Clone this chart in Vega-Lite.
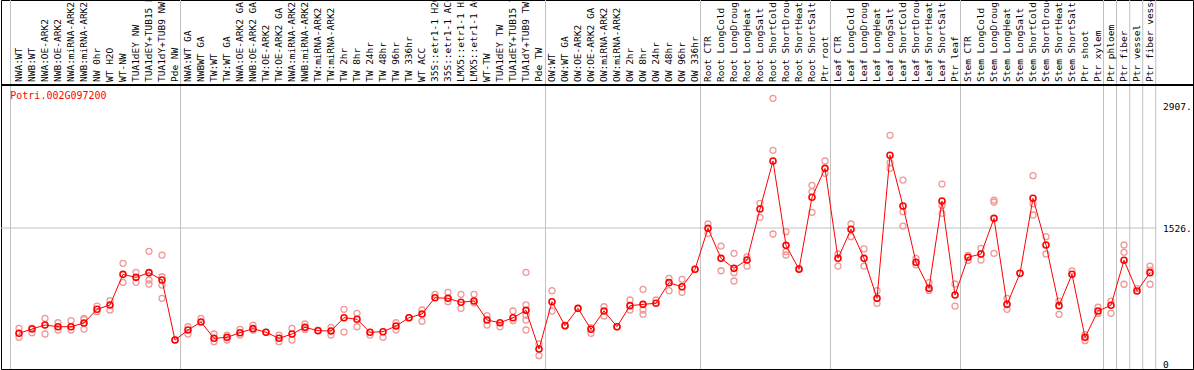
{
  "$schema": "https://vega.github.io/schema/vega-lite/v6.json",
  "width": 1192,
  "height": 369,
  "autosize": {"type": "none"},
  "padding": {"left": 1, "top": 0, "right": 1, "bottom": 1},
  "background": "white",
  "config": {"view": {"stroke": "#000000", "strokeWidth": 1}},
  "datasets": {
    "samples": [
      {"i":1,"label":"NWA:WT","mean":336},
      {"i":2,"label":"NWB:WT","mean":384},
      {"i":3,"label":"NWA:OE-ARK2","mean":430},
      {"i":4,"label":"NWB:OE-ARK2","mean":410},
      {"i":5,"label":"NWA:miRNA-ARK2","mean":410},
      {"i":6,"label":"NWB:miRNA-ARK2","mean":452},
      {"i":7,"label":"NW 0hr","mean":607},
      {"i":8,"label":"WT H2O","mean":656},
      {"i":9,"label":"WT-NW","mean":1002},
      {"i":10,"label":"TUA1dEY NW","mean":968},
      {"i":11,"label":"TUA1dEY+TUB15 NW","mean":1021},
      {"i":12,"label":"TUA1dY+TUB9 NW","mean":938},
      {"i":13,"label":"Pde NW","mean":260},
      {"i":14,"label":"NWA:WT GA","mean":373},
      {"i":15,"label":"NWBWT GA","mean":463},
      {"i":16,"label":"TW:WT","mean":279},
      {"i":17,"label":"TW:WT GA","mean":290},
      {"i":18,"label":"NWA:OE-ARK2 GA","mean":342},
      {"i":19,"label":"NWB:OE-ARK2 GA","mean":388},
      {"i":20,"label":"TW:OE-ARK2","mean":347},
      {"i":21,"label":"TW:OE-ARK2 GA","mean":279},
      {"i":22,"label":"NWA:miRNA-ARK2","mean":328},
      {"i":23,"label":"NWB:miRNA-ARK2","mean":403},
      {"i":24,"label":"TW:miRNA-ARK2","mean":365},
      {"i":25,"label":"TW:miRNA-ARK2","mean":362},
      {"i":26,"label":"TW 2hr","mean":512},
      {"i":27,"label":"TW 8hr","mean":494},
      {"i":28,"label":"TW 24hr","mean":347},
      {"i":29,"label":"TW 48hr","mean":354},
      {"i":30,"label":"TW 96hr","mean":418},
      {"i":31,"label":"TW 336hr","mean":512},
      {"i":32,"label":"WT ACC","mean":554},
      {"i":33,"label":"35S::etr1-1 H2O","mean":738},
      {"i":34,"label":"35S::etr1-1 ACC","mean":731},
      {"i":35,"label":"LMX5::etr1-1 H2O","mean":686},
      {"i":36,"label":"LMX5::etr1-1 ACC","mean":701},
      {"i":37,"label":"WT-TW","mean":486},
      {"i":38,"label":"TUA1dEY TW","mean":455},
      {"i":39,"label":"TUA1dEY+TUB15 TW","mean":512},
      {"i":40,"label":"TUA1dY+TUB9 TW","mean":595},
      {"i":41,"label":"Pde TW","mean":158},
      {"i":42,"label":"OW:WT","mean":693},
      {"i":43,"label":"OW:WT GA","mean":422},
      {"i":44,"label":"OW:OE-ARK2","mean":618},
      {"i":45,"label":"OW:OE-ARK2 GA","mean":381},
      {"i":46,"label":"OW:miRNA-ARK2","mean":588},
      {"i":47,"label":"OW:miRNA-ARK2","mean":410},
      {"i":48,"label":"OW 2hr","mean":648},
      {"i":49,"label":"OW 8hr","mean":663},
      {"i":50,"label":"OW 24hr","mean":675},
      {"i":51,"label":"OW 48hr","mean":908},
      {"i":52,"label":"OW 96hr","mean":862},
      {"i":53,"label":"OW 336hr","mean":1059},
      {"i":54,"label":"Root CTR","mean":1522},
      {"i":55,"label":"Root LongCold","mean":1183},
      {"i":56,"label":"Root LongDrought","mean":1070},
      {"i":57,"label":"Root LongHeat","mean":1164},
      {"i":58,"label":"Root LongSalt","mean":1741},
      {"i":59,"label":"Root ShortCold","mean":2283},
      {"i":60,"label":"Root ShortDrought","mean":1330},
      {"i":61,"label":"Root ShortHeat","mean":1059},
      {"i":62,"label":"Root ShortSalt","mean":1873},
      {"i":63,"label":"Ptr root","mean":2200},
      {"i":64,"label":"Leaf CTR","mean":1183},
      {"i":65,"label":"Leaf LongCold","mean":1511},
      {"i":66,"label":"Leaf LongDrought","mean":1183},
      {"i":67,"label":"Leaf LongHeat","mean":731},
      {"i":68,"label":"Leaf LongSalt","mean":2348},
      {"i":69,"label":"Leaf ShortCold","mean":1775},
      {"i":70,"label":"Leaf ShortDrought","mean":1138},
      {"i":71,"label":"Leaf ShortHeat","mean":844},
      {"i":72,"label":"Leaf ShortSalt","mean":1831},
      {"i":73,"label":"Ptr leaf","mean":769},
      {"i":74,"label":"Stem CTR","mean":1195},
      {"i":75,"label":"Stem LongCold","mean":1232},
      {"i":76,"label":"Stem LongDrought","mean":1635},
      {"i":77,"label":"Stem LongHeat","mean":663},
      {"i":78,"label":"Stem LongSalt","mean":1014},
      {"i":79,"label":"Stem ShortCold","mean":1862},
      {"i":80,"label":"Stem ShortDrought","mean":1334},
      {"i":81,"label":"Stem ShortHeat","mean":648},
      {"i":82,"label":"Stem ShortSalt","mean":1003},
      {"i":83,"label":"Ptr shoot","mean":290},
      {"i":84,"label":"Ptr xylem","mean":588},
      {"i":85,"label":"Ptr phloem","mean":652},
      {"i":86,"label":"Ptr fiber","mean":1161},
      {"i":87,"label":"Ptr vessel","mean":814},
      {"i":88,"label":"Ptr fiber vessel","mean":1021}
    ],
    "reps": [
      {"i":1,"v":392},{"i":1,"v":290},
      {"i":2,"v":342},{"i":2,"v":395},
      {"i":3,"v":505},{"i":3,"v":328},
      {"i":4,"v":455},{"i":4,"v":373},
      {"i":5,"v":478},{"i":5,"v":373},
      {"i":6,"v":505},{"i":6,"v":490},{"i":6,"v":384},
      {"i":7,"v":644},{"i":7,"v":580},
      {"i":8,"v":704},{"i":8,"v":599},
      {"i":9,"v":1127},{"i":9,"v":912},
      {"i":10,"v":1025},{"i":10,"v":912},
      {"i":11,"v":1262},{"i":11,"v":938},{"i":11,"v":893},
      {"i":12,"v":1220},{"i":12,"v":975},{"i":12,"v":881},{"i":12,"v":731},
      {"i":13,"v":260},
      {"i":14,"v":410},{"i":14,"v":328},
      {"i":15,"v":505},
      {"i":16,"v":328},{"i":16,"v":241},
      {"i":17,"v":260},{"i":17,"v":316},
      {"i":18,"v":381},{"i":18,"v":316},
      {"i":19,"v":429},{"i":19,"v":373},
      {"i":20,"v":347},
      {"i":21,"v":241},{"i":21,"v":316},
      {"i":22,"v":392},{"i":22,"v":260},
      {"i":23,"v":441},{"i":23,"v":380},
      {"i":24,"v":370},
      {"i":25,"v":403},{"i":25,"v":316},
      {"i":26,"v":607},{"i":26,"v":350},
      {"i":27,"v":562},{"i":27,"v":410},
      {"i":28,"v":316},
      {"i":29,"v":290},
      {"i":30,"v":455},{"i":30,"v":373},
      {"i":31,"v":512},
      {"i":32,"v":599},{"i":32,"v":471},
      {"i":33,"v":776},
      {"i":34,"v":799},{"i":34,"v":693},
      {"i":35,"v":776},{"i":35,"v":618},
      {"i":36,"v":776},{"i":36,"v":680},
      {"i":37,"v":535},{"i":37,"v":429},
      {"i":38,"v":410},
      {"i":39,"v":588},{"i":39,"v":480},
      {"i":40,"v":1025},{"i":40,"v":656},{"i":40,"v":540},{"i":40,"v":486},{"i":40,"v":373},
      {"i":41,"v":215},{"i":41,"v":83},
      {"i":42,"v":817},{"i":42,"v":588},
      {"i":43,"v":422},
      {"i":44,"v":618},
      {"i":45,"v":336},{"i":45,"v":400},
      {"i":46,"v":636},{"i":46,"v":531},
      {"i":47,"v":410},
      {"i":48,"v":712},{"i":48,"v":599},
      {"i":49,"v":833},{"i":49,"v":599},{"i":49,"v":550},
      {"i":50,"v":712},
      {"i":51,"v":957},{"i":51,"v":817},
      {"i":52,"v":946},{"i":52,"v":799},
      {"i":53,"v":1059},
      {"i":54,"v":1571},{"i":54,"v":1466},
      {"i":55,"v":1322},{"i":55,"v":1043},
      {"i":56,"v":1240},{"i":56,"v":1021},{"i":56,"v":927},
      {"i":57,"v":1200},{"i":57,"v":1096},
      {"i":58,"v":1805},{"i":58,"v":1647},
      {"i":59,"v":2992},{"i":59,"v":2404},{"i":59,"v":1458},
      {"i":60,"v":1484},{"i":60,"v":1258},{"i":60,"v":1221},
      {"i":61,"v":1070},
      {"i":62,"v":2008},{"i":62,"v":1936},{"i":62,"v":1703},
      {"i":63,"v":2283},{"i":63,"v":2144},
      {"i":64,"v":1232},{"i":64,"v":1096},
      {"i":65,"v":1571},{"i":65,"v":1428},
      {"i":66,"v":1289},{"i":66,"v":1096},
      {"i":67,"v":817},{"i":67,"v":675},
      {"i":68,"v":2574},{"i":68,"v":2264},{"i":68,"v":2200},
      {"i":69,"v":2068},{"i":69,"v":1710},{"i":69,"v":1548},
      {"i":70,"v":1183},{"i":70,"v":1110},
      {"i":71,"v":908},{"i":71,"v":820},
      {"i":72,"v":2023},{"i":72,"v":1780},{"i":72,"v":1692},
      {"i":73,"v":893},{"i":73,"v":644},
      {"i":74,"v":1215},{"i":74,"v":1160},
      {"i":75,"v":1296},{"i":75,"v":1164},
      {"i":76,"v":1842},{"i":76,"v":1820},{"i":76,"v":1240},
      {"i":77,"v":731},{"i":77,"v":607},
      {"i":78,"v":1014},
      {"i":79,"v":2117},{"i":79,"v":1800},{"i":79,"v":1673},
      {"i":80,"v":1428},{"i":80,"v":1232},
      {"i":81,"v":700},{"i":81,"v":550},
      {"i":82,"v":1040},
      {"i":83,"v":320},{"i":83,"v":252},
      {"i":84,"v":630},{"i":84,"v":560},
      {"i":85,"v":700},{"i":85,"v":562},
      {"i":86,"v":1334},{"i":86,"v":1251},{"i":86,"v":890},
      {"i":87,"v":840},
      {"i":88,"v":1096},{"i":88,"v":1050},{"i":88,"v":890}
    ],
    "seps": [
      {"s":0.346},{"s":13.423},{"s":41.5},{"s":53.423},{"s":63.423},{"s":73.423},
      {"s":84.423},{"s":85.423},{"s":86.44},{"s":87.44},{"s":88.44}
    ],
    "grid": [{"g":1526,"x1":-0.38,"x2":88.44}],
    "ticks": [{"v":2907,"t":"2907."},{"v":1526,"t":"1526."},{"v":0,"t":"0"}],
    "gene": [{"name":"Potri.002G097200"}]
  },
  "layer": [
    {
      "data": {"name": "seps"},
      "mark": {"type": "rule", "color": "#c0c0c0", "strokeWidth": 1},
      "encoding": {
        "x": {"field": "s", "type": "quantitative", "axis": null,
              "scale": {"domain": [-0.38462, 91.3077], "nice": false, "zero": false}}
      }
    },
    {
      "data": {"name": "grid"},
      "mark": {"type": "rule", "color": "#c0c0c0", "strokeWidth": 1},
      "encoding": {
        "x": {"field": "x1", "type": "quantitative", "axis": null},
        "x2": {"field": "x2"},
        "y": {"field": "g", "type": "quantitative", "axis": null,
              "scale": {"domain": [-67.82, 4103.1], "nice": false, "zero": false}}
      }
    },
    {
      "data": {"name": "samples"},
      "mark": {"type": "rule", "color": "#000000", "strokeWidth": 1},
      "encoding": {
        "y": {"datum": 3137, "type": "quantitative", "axis": null}
      }
    },
    {
      "data": {"name": "samples"},
      "mark": {"type": "text", "angle": 270, "align": "left", "baseline": "middle",
               "font": "DejaVu Sans Mono", "fontSize": 9.5, "color": "#000000"},
      "encoding": {
        "x": {"field": "i", "type": "quantitative", "axis": null},
        "y": {"datum": 3176, "type": "quantitative", "axis": null},
        "text": {"field": "label"}
      }
    },
    {
      "data": {"name": "ticks"},
      "mark": {"type": "text", "align": "left", "baseline": "middle", "dy": 1.5,
               "font": "DejaVu Sans Mono", "fontSize": 9.5, "color": "#000000"},
      "encoding": {
        "x": {"datum": 89.0, "type": "quantitative", "axis": null},
        "y": {"field": "v", "type": "quantitative", "axis": null},
        "text": {"field": "t"}
      }
    },
    {
      "data": {"name": "reps"},
      "mark": {"type": "point", "shape": "circle", "filled": false, "size": 36,
               "stroke": "#f09898", "strokeWidth": 1.3, "opacity": 1},
      "encoding": {
        "x": {"field": "i", "type": "quantitative", "axis": null},
        "y": {"field": "v", "type": "quantitative", "axis": null}
      }
    },
    {
      "data": {"name": "samples"},
      "mark": {"type": "line", "color": "#ff0000", "strokeWidth": 1},
      "encoding": {
        "x": {"field": "i", "type": "quantitative", "axis": null},
        "y": {"field": "mean", "type": "quantitative", "axis": null}
      }
    },
    {
      "data": {"name": "samples"},
      "mark": {"type": "point", "shape": "circle", "filled": false, "size": 36,
               "stroke": "#ff0000", "strokeWidth": 1.6, "opacity": 1},
      "encoding": {
        "x": {"field": "i", "type": "quantitative", "axis": null},
        "y": {"field": "mean", "type": "quantitative", "axis": null}
      }
    },
    {
      "data": {"name": "gene"},
      "mark": {"type": "text", "align": "left", "baseline": "middle",
               "font": "DejaVu Sans Mono", "fontSize": 10, "color": "#ff0000"},
      "encoding": {
        "x": {"datum": 0.33, "type": "quantitative", "axis": null},
        "y": {"datum": 3018, "type": "quantitative", "axis": null},
        "text": {"field": "name"}
      }
    }
  ]
}
